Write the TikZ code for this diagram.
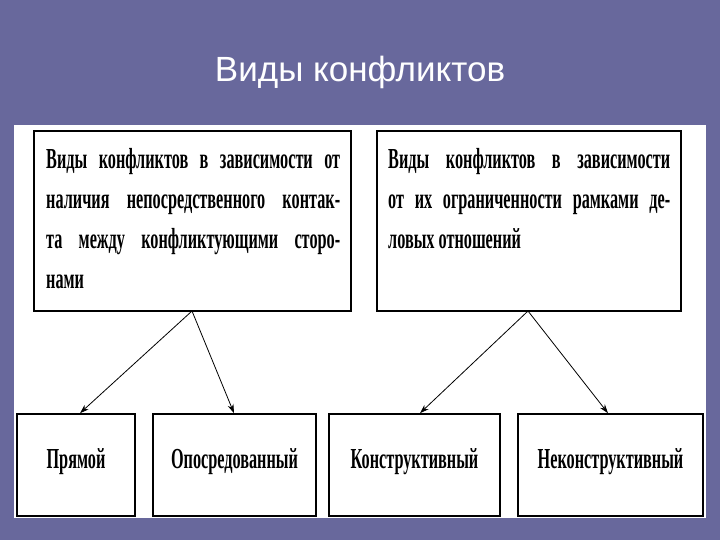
\documentclass[tikz,border=0pt]{standalone}
\usepackage{fontspec}
\usetikzlibrary{arrows.meta}
\setmainfont{Liberation Serif}
\newfontfamily\cond[FakeStretch=0.56]{Liberation Serif Bold}
\newfontfamily\titlefont{Liberation Sans}
\definecolor{bg}{HTML}{68689C}
\newcommand{\jl}[2]{\hbox to #1{#2}}
\begin{document}
\begin{tikzpicture}[x=1pt,y=-1pt,
  box/.style={draw=black,line width=1.6pt,fill=white},
  lbl/.style={font=\cond\fontsize{29}{29}\selectfont,inner sep=0pt},
  arr/.style={-{Stealth[length=9pt,width=6pt]},line width=0.8pt}]
\fill[bg] (0,0) rectangle (720,540);
\useasboundingbox (0,0) rectangle (720,540);
\node[font=\titlefont\fontsize{35}{35}\selectfont,text=white] (title) at (360,72) {Виды конфликтов};
\fill[white] (14,125) rectangle (706,518);
\node[box,minimum width=317pt,minimum height=180pt] (L) at (192.5,221) {};
\node[box,minimum width=304pt,minimum height=180pt] (R) at (529,221) {};
\node[lbl,anchor=north west,align=left] (Lt) at (46,148) {\parbox{294pt}{\baselineskip=40pt
\jl{294pt}{Виды конфликтов в зависимости от}\par
\jl{294pt}{наличия непосредственного контак-}\par
\jl{294pt}{та между конфликтующими сторо-}\par
нами}};
\node[lbl,anchor=north west,align=left] (Rt) at (388,148) {\parbox{282pt}{\baselineskip=40pt
\jl{282pt}{Виды конфликтов в зависимости}\par
\jl{282pt}{от их ограниченности рамками де-}\par
ловых отношений}};
\node[box,minimum width=118pt,minimum height=102pt] (B1) at (76,465) {};
\node[box,minimum width=163pt,minimum height=102pt] (B2) at (234.5,465) {};
\node[box,minimum width=171pt,minimum height=102pt] (B3) at (414.5,465) {};
\node[box,minimum width=185pt,minimum height=102pt] (B4) at (610.5,465) {};
\node[lbl] at (76,462) {Прямой};
\node[lbl] at (234.5,462) {Опосредованный};
\node[lbl] at (414.5,462) {Конструктивный};
\node[lbl] at (610.5,462) {Неконструктивный};
\coordinate (lo) at (192,311);
\coordinate (ro) at (528,311);
\draw[arr] (lo) -- (B1.north -| 80,0);
\draw[arr] (lo) -- (B2.north -| 234,0);
\draw[arr] (ro) -- (B3.north -| 420,0);
\draw[arr] (ro) -- (B4.north -| 608,0);
\end{tikzpicture}
\end{document}
